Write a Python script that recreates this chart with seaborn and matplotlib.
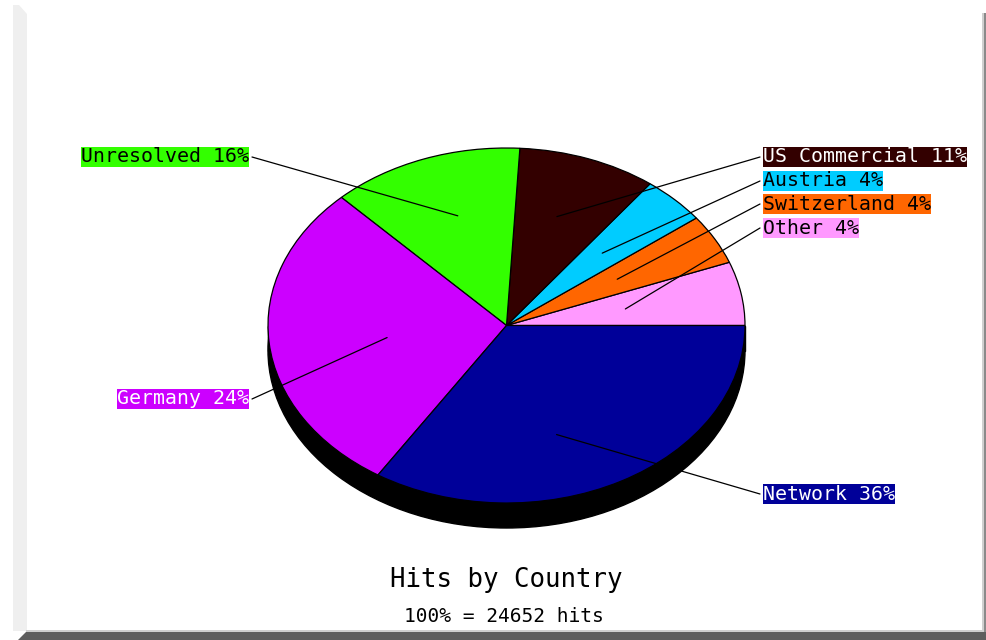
import numpy as np
import matplotlib
matplotlib.use("Agg")
import matplotlib.pyplot as plt
import seaborn as sns
from matplotlib.patches import Ellipse, Rectangle, Polygon

# ---------------- data ----------------
categories = ["Other", "Switzerland", "Austria", "US Commercial",
              "Unresolved", "Germany", "Network"]
shares = [4.4, 3.8, 4.2, 11.4, 15.7, 24.2, 36.3]      # slice sizes
label_pct = [4, 4, 4, 11, 16, 24, 36]                  # percentages printed in labels
slice_colors = ["#ff99ff", "#ff6600", "#00ccff", "#330000",
                "#33ff00", "#cc00ff", "#000099"]
text_colors = ["black", "black", "black", "white", "black", "white", "white"]
chart_title = "Hits by Country"
total_hits = 24652

# ---------------- layout ----------------
W, H = 986, 640
CX, CY = 506.5, 325.5          # pie centre (pixels)
RX, RY = 238.5, 177.5          # pie radii (pixels)
DEPTH = 25                     # 3-D rim depth (pixels)
INNER = 120                    # leader line start radius (pixels)
# label anchor points (pixel) and side
label_layout = {
    "Other":         (760, 228, "right"),
    "Switzerland":   (760, 204, "right"),
    "Austria":       (760, 181, "right"),
    "US Commercial": (760, 157, "right"),
    "Unresolved":    (252, 157, "left"),
    "Germany":       (252, 399, "left"),
    "Network":       (760, 494, "right"),
}

sns.set_theme(style="white")
plt.rcParams["font.family"] = ["DejaVu Sans Mono", "DejaVu Sans"]
sns.set_palette(slice_colors)

fig = plt.figure(figsize=(W / 100, H / 100), dpi=100)
fig.patch.set_facecolor("white")

# ---- pie axes: unit circle maps to the ellipse ----
xl = (-1.3, 1.3)
yl = (-1.4, 1.2)
left_px = CX + xl[0] * RX
top_px = CY - yl[1] * RY
ax = fig.add_axes([left_px / W,
                   (H - (CY - yl[0] * RY)) / H,
                   (xl[1] - xl[0]) * RX / W,
                   (yl[1] - yl[0]) * RY / H])

# display-space angles of slice boundaries -> parametric angles of the ellipse
vals = np.asarray(shares, dtype=float)
theta = np.radians(360 * np.concatenate([[0], np.cumsum(vals)]) / vals.sum())
t = np.degrees(np.arctan2(RX * np.sin(theta), RY * np.cos(theta))) % 360
t[-1] = 360.0
spans = np.diff(t)

ax.pie(spans, colors=slice_colors, startangle=0, counterclock=True,
       wedgeprops=dict(edgecolor="black", linewidth=0.9), radius=1.0)
ax.set_aspect("auto")
ax.set_xlim(*xl)
ax.set_ylim(*yl)
ax.axis("off")

d = DEPTH / RY
ax.add_patch(Ellipse((0, -d), 2, 2, facecolor="black", edgecolor="black",
                     zorder=0))
ax.add_patch(Rectangle((-1, -d), 2, d, facecolor="black", edgecolor="black",
                       zorder=0))

# ---- overlay axes in pixel coordinates ----
ov = fig.add_axes([0, 0, 1, 1])
ov.set_xlim(0, W)
ov.set_ylim(H, 0)
ov.axis("off")
ov.patch.set_alpha(0)

# frame decorations
ov.add_patch(Polygon([(13, 5), (19, 5), (27, 14), (27, 631), (13, 631)],
                     closed=True, facecolor="#efefef", edgecolor="none"))
ov.add_patch(Polygon([(18, 640), (26, 632), (986, 632), (986, 640)],
                     closed=True, facecolor="#5e5e5e", edgecolor="none"))
ov.add_patch(Rectangle((26, 630), 960, 2, facecolor="#cfcfcf", edgecolor="none"))
ov.add_patch(Rectangle((982, 13), 2, 619, facecolor="#d0d0d0", edgecolor="none"))
ov.add_patch(Rectangle((984, 13), 2, 619, facecolor="#8a8a8a", edgecolor="none"))

# leader lines and labels
mids = (theta[:-1] + theta[1:]) / 2
for cat, pct, col, tcol, m in zip(categories, label_pct, slice_colors,
                                  text_colors, mids):
    lx, ly, side = label_layout[cat]
    ix = CX + INNER * np.cos(m)
    iy = CY - INNER * np.sin(m)
    ov.plot([ix, lx], [iy, ly], color="black", lw=0.9, zorder=5)
    if side == "right":
        tx, ha = lx + 3, "left"
    else:
        tx, ha = lx - 3, "right"
    ov.text(tx, ly, f"{cat} {pct}%", ha=ha, va="center", fontsize=14.3,
            color=tcol, zorder=6,
            bbox=dict(boxstyle="square,pad=0.02", facecolor=col,
                      edgecolor="none"))

ov.text(506, 580, chart_title, ha="center", va="center", fontsize=18.5,
        color="black")
ov.text(504, 616, f"100% = {total_hits} hits", ha="center", va="center",
        fontsize=14, color="black")

fig.savefig("out.png", dpi=100, facecolor="white")
